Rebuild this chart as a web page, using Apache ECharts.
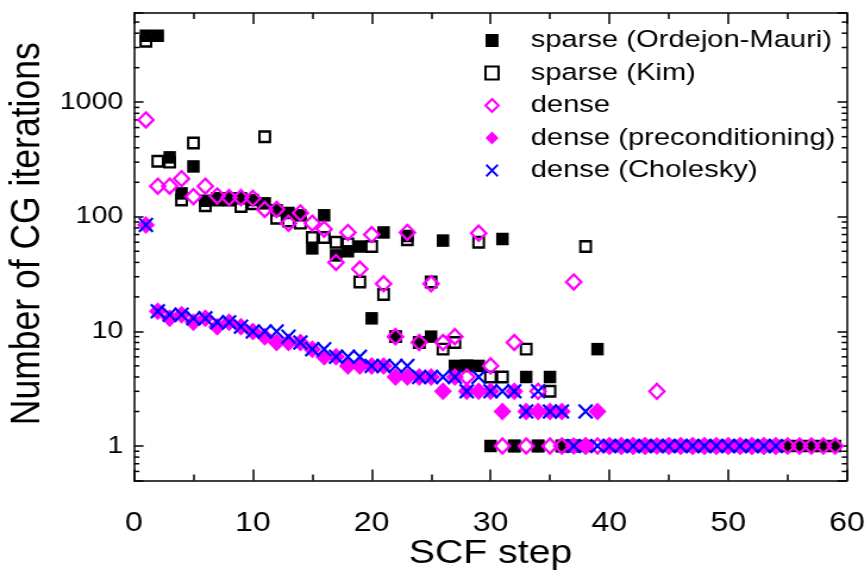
<!DOCTYPE html>
<html>
<head>
<meta charset="utf-8">
<script src="https://cdn.jsdelivr.net/npm/echarts@6.0.0/dist/echarts.min.js"></script>
<style>
    html, body { margin: 0; padding: 0; background: #fff; overflow: hidden; }
    /* the figure's lettering is wider than Liberation Sans, so the whole chart is drawn narrower and stretched */
    #chart { width: 727px; height: 572px; transform: scaleX(1.19); transform-origin: 0 0; }
</style>
</head>
<body>
<div id="chart"></div>
<script>
    const SX = 1.19;

    // CG iterations per SCF step (index 0 = step 1)
    const sparseOM = [3800, 3800, 330, 160, 275, 138, 145, 145, 145, 140, 131, 114, 108, 103, 53, 103, 46, 50, 55, 13,
        73, 9, 68, 8, 9, 62, 5, 5, 5, 1, 64, 1, 4, 1, 4, 1, 1, 1, 7, 1,
        1, 1, 1, 1, 1, 1, 1, 1, 1, 1, 1, 1, 1, 1, 1, 1, 1, 1, 1];
    const sparseKim = [3400, 305, 300, 140, 440, 125, 140, 140, 123, 130, 500, 97, 92, 88, 66, 66, 60, 58, 27, 55,
        21, 9, 63, 8, 27, 7, 8, 5, 60, 4, 4, 1, 7, 1, 3, 1, 1, 55];
    const dense = [700, 185, 185, 215, 150, 185, 152, 147, 147, 145, 116, 116, 88, 108, 88, 78, 40, 73, 35, 70,
        26, 9, 73, 8, 26, 8, 9, 4, 72, 5, 1, 8, 1, 3, 1, 1, 27, 1, 1, 1,
        1, 1, 1, 3, 1, 1, 1, 1, 1, 1, 1, 1, 1, 1, 1, 1, 1, 1, 1];
    const densePrecond = [85, 15, 13, 14, 12, 13, 11, 12, 11, 10, 9, 8, 8, 8, 7, 6, 6, 5, 5, 5,
        5, 4, 4, 4, 4, 3, 4, 3, 3, 3, 2, 3, 2, 2, 2, 2, 1, 1, 2, 1,
        1, 1, 1, 1, 1, 1, 1, 1, 1, 1, 1, 1, 1, 1];
    const denseCholesky = [85, 15, 14, 14, 13, 13, 12, 12, 11, 10, 10, 10, 9, 8, 7, 7, 6, 6, 6, 5,
        5, 5, 5, 4, 4, 4, 4, 3, 4, 3, 3, 3, 2, 3, 2, 2, 1, 2, 1, 1,
        1, 1, 1, 1, 1, 1, 1, 1, 1, 1, 1, 1, 1, 1];

    const seriesNames = ['sparse (Ordejon-Mauri)', 'sparse (Kim)', 'dense', 'dense (preconditioning)', 'dense (Cholesky)'];
    const yMajorLabels = [1, 10, 100, 1000];
    const yMinorTicks = [0.6, 0.7, 0.8, 0.9, 2, 3, 4, 5, 6, 7, 8, 9, 20, 30, 40, 50, 60, 70, 80, 90,
        200, 300, 400, 500, 600, 700, 800, 900, 2000, 3000, 4000, 5000];

    const FONT = '"Liberation Sans", Arial, sans-serif';
    const X_PATH = 'path://M0,1.1L1.1,0L5,3.9L8.9,0L10,1.1L6.1,5L10,8.9L8.9,10L5,6.1L1.1,10L0,8.9L3.9,5Z';

    // marker size in screen pixels, undoing the horizontal stretch
    function size(w, h) { return [w / SX, h]; }
    function points(vals) { return vals.map((v, i) => [i + 1, v]); }

    const chart = echarts.init(document.getElementById('chart'));

    const axisLine = { onZero: false, lineStyle: { color: '#000', width: 1.5 } };
    const xCommon = {
        type: 'value', min: 0, max: 60, interval: 10,
        axisLine: axisLine,
        axisTick: { inside: true, length: 11, lineStyle: { color: '#000', width: 1.5 } },
        minorTick: { show: true, splitNumber: 2, length: 6, lineStyle: { color: '#000', width: 1.5 } },
        splitLine: { show: false }
    };
    const yCommon = {
        type: 'log', logBase: 10, min: 0.5, max: 6000,
        axisLine: axisLine,
        axisTick: { inside: true, length: 8, lineStyle: { color: '#000', width: 1.5 } },
        splitLine: { show: false }
    };

    const option = {
        animation: false,
        textStyle: { fontFamily: FONT, color: '#000' },
        grid: { left: 112.6, right: 15.2, top: 13, bottom: 91.5, outerBoundsMode: 'none', containLabel: false },
        legend: {
            data: seriesNames,
            orient: 'vertical',
            left: 407,
            top: 28,
            padding: 0,
            itemWidth: 13 / SX,
            itemHeight: 13,
            itemGap: 7.5,
            symbolKeepAspect: false,
            selectedMode: false,
            textStyle: { fontFamily: FONT, fontSize: 24.5, lineHeight: 25, color: '#000', padding: [0, 0, 0, 22] }
        },
        xAxis: [
            Object.assign({}, xCommon, {
                position: 'bottom',
                axisLabel: { fontSize: 27, color: '#000', margin: 30, fontFamily: FONT },
                name: 'SCF step', nameLocation: 'middle', nameGap: 57, nameMoveOverlap: false,
                nameTextStyle: { fontSize: 33, color: '#000', fontFamily: FONT }
            }),
            Object.assign({}, xCommon, { position: 'top', axisLabel: { show: false } })
        ],
        yAxis: [
            Object.assign({}, yCommon, {
                position: 'left',
                axisLabel: {
                    fontSize: 24, color: '#000', margin: 9, fontFamily: FONT,
                    formatter: function (v) {
                        const hit = yMajorLabels.find(m => Math.abs(m - v) / m < 1e-6);
                        return hit === undefined ? '' : String(hit);
                    }
                },
                name: 'Number of CG iterations', nameLocation: 'middle', nameGap: 71, nameMoveOverlap: false,
                nameTextStyle: { fontSize: 35.5, color: '#000', fontFamily: FONT, padding: [0, 0, 0, 26] }
            }),
            Object.assign({}, yCommon, { position: 'right', axisLabel: { show: false } })
        ],
        series: [
            {
                name: seriesNames[0], type: 'scatter', symbol: 'rect', symbolSize: size(12.5, 12.5),
                itemStyle: { color: '#000', opacity: 1 }, silent: true, data: points(sparseOM)
            },
            {
                name: seriesNames[1], type: 'scatter', symbol: 'rect', symbolSize: size(10.5, 10.5),
                itemStyle: { color: 'rgba(0,0,0,0)', borderColor: '#000', borderWidth: 2.2, opacity: 1 }, silent: true, data: points(sparseKim)
            },
            {
                name: seriesNames[2], type: 'scatter', symbol: 'diamond', symbolSize: size(15, 15),
                itemStyle: { color: 'rgba(0,0,0,0)', borderColor: '#ff00ff', borderWidth: 2.3, opacity: 1 }, silent: true, data: points(dense)
            },
            {
                name: seriesNames[3], type: 'scatter', symbol: 'diamond', symbolSize: size(18, 18),
                itemStyle: { color: '#ff00ff', opacity: 1 }, silent: true, data: points(densePrecond)
            },
            {
                name: seriesNames[4], type: 'scatter', symbol: X_PATH, symbolSize: size(15.5, 15.5),
                itemStyle: { color: '#0000ff', opacity: 1 }, silent: true, data: points(denseCholesky)
            },
            {
                // minor ticks of the log axis at 2..9 of each decade, on both sides of the frame
                name: 'minor ticks', type: 'custom', silent: true, clip: false,
                data: yMinorTicks.map(v => [0, v]),
                encode: { x: 0, y: 1 },
                renderItem: function (params, api) {
                    const l = api.coord([0, api.value(1)]);
                    const r = api.coord([60, api.value(1)]);
                    const len = 4.5;
                    const st = { stroke: '#000', lineWidth: 1.5 };
                    return {
                        type: 'group',
                        children: [
                            { type: 'line', shape: { x1: l[0], y1: l[1], x2: l[0] + len, y2: l[1] }, style: st },
                            { type: 'line', shape: { x1: r[0] - len, y1: r[1], x2: r[0], y2: r[1] }, style: st }
                        ]
                    };
                }
            }
        ]
    };
    chart.setOption(option);
</script>
</body>
</html>
